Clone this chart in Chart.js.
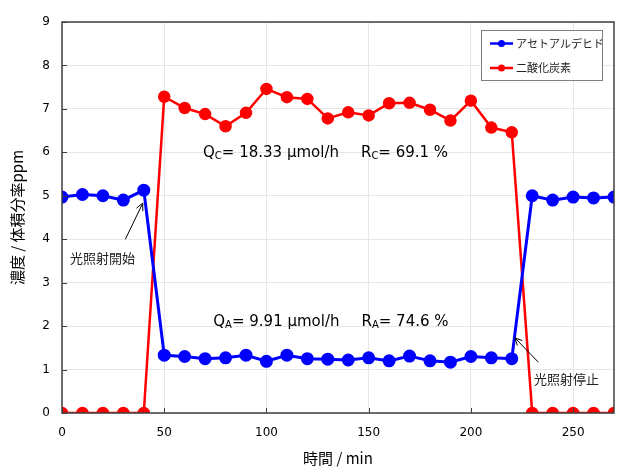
<!DOCTYPE html>
<html><head><meta charset="utf-8">
<script src="https://cdn.jsdelivr.net/npm/chart.js@4"></script>
<style>html,body{margin:0;padding:0;background:#fff}#wrap{width:634px;height:473px}</style>
</head><body><div id="wrap"><canvas id="c" width="634" height="473"></canvas></div>
<script>
const times = [0,10,20,30,40,50,60,70,80,90,100,110,120,130,140,150,160,170,180,190,200,210,220,230,240,250,260,270];
const acetaldehyde = [4.97,5.03,5.00,4.90,5.13,1.33,1.30,1.25,1.27,1.33,1.19,1.33,1.25,1.24,1.22,1.27,1.20,1.31,1.20,1.17,1.30,1.27,1.25,5.00,4.90,4.97,4.95,4.97];
const co2 = [0,0,0,0,0,7.28,7.02,6.88,6.60,6.91,7.46,7.27,7.23,6.78,6.92,6.85,7.13,7.14,6.98,6.73,7.19,6.57,6.46,0,0,0,0,0];
const seriesNames = ['アセトアルデヒド','二酸化炭素'];
const xTicks = [0,50,100,150,200,250];
const yTicks = [0,1,2,3,4,5,6,7,8,9];
const xTitle = '時間 / min';
const yTitle = '濃度 / 体積分率ppm';
const noteC = {q:'Q', qs:'C', qv:'= 18.33 μmol/h', r:'R', rs:'C', rv:'= 69.1 %'};
const noteA = {q:'Q', qs:'A', qv:'= 9.91 μmol/h', r:'R', rs:'A', rv:'= 74.6 %'};
const startLabel = '光照射開始';
const stopLabel = '光照射停止';

const NUMF = '"DejaVu Sans", Verdana, sans-serif';
const JPF = '"Noto Sans CJK JP", sans-serif';

function arrow(ctx, x1, y1, x2, y2){
  ctx.save();
  ctx.strokeStyle = '#000'; ctx.lineWidth = 1;
  ctx.beginPath(); ctx.moveTo(x1,y1); ctx.lineTo(x2,y2); ctx.stroke();
  const a = Math.atan2(y2-y1, x2-x1), L = 8, w = 0.45;
  ctx.beginPath();
  ctx.moveTo(x2 - L*Math.cos(a-w), y2 - L*Math.sin(a-w));
  ctx.lineTo(x2,y2);
  ctx.lineTo(x2 - L*Math.cos(a+w), y2 - L*Math.sin(a+w));
  ctx.stroke();
  ctx.restore();
}
function note(ctx, n, x, y){
  ctx.save();
  ctx.fillStyle = '#000'; ctx.textBaseline = 'middle'; ctx.textAlign = 'left';
  const big = '15px ' + NUMF, small = '10px ' + NUMF;
  let cx = x;
  ctx.font = big; ctx.fillText(n.q, cx, y); cx += ctx.measureText(n.q).width;
  ctx.font = small; ctx.fillText(n.qs, cx, y+4); cx += ctx.measureText(n.qs).width;
  ctx.font = big; ctx.fillText(n.qv, cx, y); cx += ctx.measureText(n.qv).width + 22;
  ctx.fillText(n.r, cx, y); cx += ctx.measureText(n.r).width;
  ctx.font = small; ctx.fillText(n.rs, cx, y+4); cx += ctx.measureText(n.rs).width;
  ctx.font = big; ctx.fillText(n.rv, cx, y);
  ctx.restore();
}

const overlay = {
  id: 'overlay',
  afterDraw(chart){
    const ctx = chart.ctx, xs = chart.scales.x, ys = chart.scales.y, a = chart.chartArea;
    ctx.save();
    ctx.strokeStyle = '#404040'; ctx.lineWidth = 1;
    xTicks.forEach(v => { const px = Math.round(xs.getPixelForValue(v))+0.5; ctx.beginPath(); ctx.moveTo(px, a.bottom); ctx.lineTo(px, a.bottom-5); ctx.stroke(); });
    yTicks.forEach(v => { const py = Math.round(ys.getPixelForValue(v))+0.5; ctx.beginPath(); ctx.moveTo(a.left, py); ctx.lineTo(a.left+5, py); ctx.stroke(); });
    ctx.strokeStyle = '#404040'; ctx.lineWidth = 1.5;
    ctx.strokeRect(a.left, a.top, a.right-a.left, a.bottom-a.top);
    note(ctx, noteC, xs.getPixelForValue(69), ys.getPixelForValue(5.99));
    note(ctx, noteA, xs.getPixelForValue(74), ys.getPixelForValue(2.1));
    arrow(ctx, xs.getPixelForValue(31), ys.getPixelForValue(4.0), xs.getPixelForValue(39.5), ys.getPixelForValue(4.83));
    arrow(ctx, xs.getPixelForValue(233), ys.getPixelForValue(1.17), xs.getPixelForValue(221.5), ys.getPixelForValue(1.73));
    ctx.fillStyle = '#222'; ctx.font = '13px ' + JPF; ctx.textBaseline = 'middle'; ctx.textAlign = 'left';
    ctx.fillText(startLabel, 70, ys.getPixelForValue(3.57));
    ctx.fillText(stopLabel, 534, ys.getPixelForValue(0.77));
    const lx = 481, ly = 30, lw = 121, lh = 50;
    ctx.fillStyle = '#fff'; ctx.fillRect(lx, ly, lw, lh);
    ctx.strokeStyle = '#808080'; ctx.lineWidth = 1; ctx.strokeRect(lx+0.5, ly+0.5, lw, lh);
    chart.data.datasets.forEach((d, i) => {
      const yy = 43.5 + i*24.5;
      ctx.strokeStyle = d.borderColor; ctx.lineWidth = 2.5;
      ctx.beginPath(); ctx.moveTo(490, yy); ctx.lineTo(513, yy); ctx.stroke();
      ctx.fillStyle = d.borderColor; ctx.beginPath(); ctx.arc(501.5, yy, 3.5, 0, Math.PI*2); ctx.fill();
      ctx.fillStyle = '#222'; ctx.font = '11px ' + JPF; ctx.textAlign = 'left';
      ctx.fillText(d.label, 516, yy);
    });
    ctx.restore();
  }
};

new Chart(document.getElementById('c'), {
  type: 'line',
  data: {
    datasets: [
      { label: seriesNames[0], data: times.map((t,i)=>({x:t, y:acetaldehyde[i]})), borderColor: '#0000ff', backgroundColor: '#0000ff', borderWidth: 3, pointRadius: 5, pointHoverRadius: 5, tension: 0 },
      { label: seriesNames[1], data: times.map((t,i)=>({x:t, y:co2[i]})), borderColor: '#ff0000', backgroundColor: '#ff0000', borderWidth: 2.5, pointRadius: 5, pointHoverRadius: 5, tension: 0 }
    ]
  },
  options: {
    responsive: false, animation: false, devicePixelRatio: 1,
    layout: { padding: { top: 22, right: 20, left: 8, bottom: 6 } },
    plugins: { legend: { display: false }, tooltip: { enabled: false } },
    scales: {
      x: {
        type: 'linear', min: 0, max: 270,
        afterBuildTicks: s => { s.ticks = xTicks.map(v => ({value: v})); },
        afterFit: s => { s.height = 54; },
        grid: { color: '#e6e6e6', drawTicks: false },
        border: { display: false },
        ticks: { font: { family: NUMF, size: 12 }, color: '#000', padding: 13, maxRotation: 0 },
        title: { display: true, text: xTitle, font: { family: JPF, size: 15 }, color: '#000', padding: { top: 2, bottom: 0 } }
      },
      y: {
        min: 0, max: 9,
        afterBuildTicks: s => { s.ticks = yTicks.map(v => ({value: v})); },
        afterFit: s => { s.width = 54; },
        grid: { color: '#e6e6e6', drawTicks: false },
        border: { display: false },
        ticks: { font: { family: NUMF, size: 12 }, color: '#000', padding: 12 },
        title: { display: true, text: yTitle, font: { family: JPF, size: 15 }, color: '#000', padding: { top: 0, bottom: 4 } }
      }
    }
  },
  plugins: [overlay]
});
</script></body></html>
